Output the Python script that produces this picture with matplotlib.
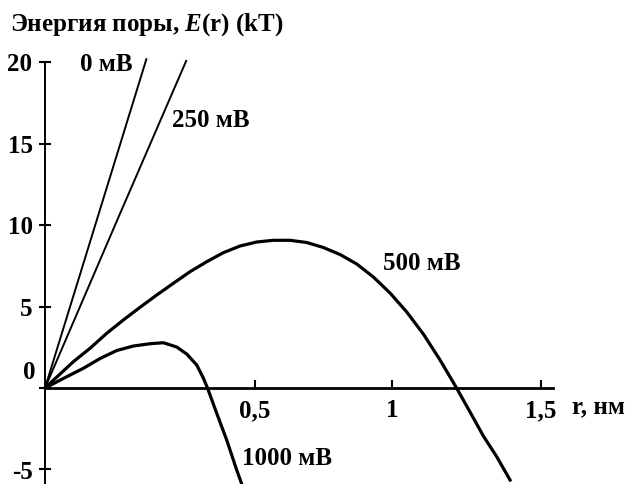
import numpy as np
import matplotlib
matplotlib.use("Agg")
import matplotlib.pyplot as plt
from matplotlib.scale import FuncScale

# Pore energy curves E(r) at several membrane voltages
r_0mv = [0.0, 0.242]
e_0mv = [0.0, 20.24]

r_250mv = [0.0, 0.172, 0.337]
e_250mv = [0.0, 10.31, 20.13]

r_500mv = [0.0, 0.0674, 0.1071, 0.1469, 0.1864, 0.2262, 0.2660, 0.3055, 0.3452,
           0.3850, 0.4245, 0.4643, 0.5062, 0.5668, 0.6277, 0.6887, 0.7493, 0.8102,
           0.8712, 0.9318, 0.9927, 1.0493, 1.1050, 1.1611, 1.2171, 1.2617, 1.3064,
           1.3513, 1.3960]
e_500mv = [0.0, 1.614, 2.437, 3.358, 4.174, 4.954, 5.709, 6.427, 7.139,
           7.753, 8.306, 8.717, 8.963, 9.067, 9.067, 8.932, 8.625, 8.195,
           7.612, 6.814, 5.832, 4.665, 3.315, 1.719, -0.018, -1.473, -2.947,
           -4.217, -5.648]

r_1000mv = [0.0, 0.0517, 0.0912, 0.1310, 0.1707, 0.2102, 0.2500, 0.2817, 0.3136,
            0.3374, 0.3612, 0.3769, 0.3869, 0.4088, 0.4326, 0.4564, 0.4683]
e_1000mv = [0.0, 0.694, 1.209, 1.811, 2.302, 2.578, 2.719, 2.781, 2.517,
            2.087, 1.412, 0.614, 0.0, -1.553, -3.192, -5.034, -5.893]

x_ticks = [0.5, 1.0, 1.5]
x_tick_labels = ["0,5", "1", "1,5"]
y_ticks = [-5, 0, 5, 10, 15, 20]
y_tick_labels = ["", "", "5", "10", "15", "20"]

curve_labels = ["0 мВ", "250 мВ", "500 мВ", "1000 мВ"]
label_pos = [(0.083, 19.83), (0.302, 16.45), (0.967, 7.67), (0.469, -4.30)]

# Hand-drawn axis: the r axis is stretched unevenly between its ticks
R_KNOTS = [0.0, 0.5, 1.0, 1.5]
U_KNOTS = [0.0, 210.0, 347.0, 496.0]


def _piecewise(x, xp, fp):
    x = np.asarray(x, dtype=float)
    y = np.interp(x, xp, fp)
    lo_slope = (fp[1] - fp[0]) / (xp[1] - xp[0])
    hi_slope = (fp[-1] - fp[-2]) / (xp[-1] - xp[-2])
    y = np.where(x < xp[0], fp[0] + (x - xp[0]) * lo_slope, y)
    y = np.where(x > xp[-1], fp[-1] + (x - xp[-1]) * hi_slope, y)
    return y


def fwd(r):
    return _piecewise(r, R_KNOTS, U_KNOTS)


def inv(u):
    return _piecewise(u, U_KNOTS, R_KNOTS)


FS = 18
plt.rcParams["font.family"] = "Liberation Serif"
plt.rcParams["font.weight"] = "bold"
plt.rcParams["mathtext.fontset"] = "custom"
plt.rcParams["mathtext.it"] = "Liberation Serif:italic:bold"
plt.rcParams["mathtext.rm"] = "Liberation Serif:bold"

W, H = 632, 484
fig = plt.figure(figsize=(W / 100, H / 100), dpi=100)
ax = fig.add_axes([45 / W, 0.0, (553 - 45) / W, (484 - 55) / H])
ax.set_xscale(FuncScale(ax, (fwd, inv)))
ax.set_xlim(0.0, 1.540)
ax.set_ylim(-5.89, 20.44)

ax.plot(r_0mv, e_0mv, color="black", lw=1.4, solid_capstyle="butt")
ax.plot(r_250mv, e_250mv, color="black", lw=1.4, solid_capstyle="butt")
ax.plot(r_500mv, e_500mv, color="black", lw=2.3, solid_joinstyle="round")
ax.plot(r_1000mv, e_1000mv, color="black", lw=2.3, solid_joinstyle="round")

for s in ("top", "right"):
    ax.spines[s].set_visible(False)
ax.spines["bottom"].set_position(("data", 0))
ax.spines["bottom"].set_linewidth(2.0)
ax.spines["left"].set_position(("data", 0))
ax.spines["left"].set_linewidth(1.4)
ax.spines["left"].set_bounds(-5.89, 20)

ax.set_xticks(x_ticks)
ax.set_xticklabels(x_tick_labels)
ax.xaxis.set_minor_locator(matplotlib.ticker.NullLocator())
ax.tick_params(axis="x", direction="in", length=6, width=1.5, pad=8, labelsize=FS)
ax.set_yticks(y_ticks)
ax.set_yticklabels(y_tick_labels)
ax.tick_params(axis="y", direction="inout", length=8, width=1.5, pad=5, labelsize=FS)
for lab in ax.get_xticklabels() + ax.get_yticklabels():
    lab.set_fontweight("bold")

# labels for 0 and -5 are nudged off their ticks
ax.annotate("0", xy=(0, 0), xycoords="data", xytext=(-7, 11.5),
            textcoords="offset points", ha="right", va="center",
            fontsize=FS, fontweight="bold")
ax.annotate("-5", xy=(0, -5), xycoords="data", xytext=(-8.5, -2),
            textcoords="offset points", ha="right", va="center",
            fontsize=FS, fontweight="bold", annotation_clip=False)

ax.text(1.604, -1.17, "r, нм", ha="left", va="center", fontsize=FS,
        fontweight="bold", clip_on=False)

for txt, (xr, ye) in zip(curve_labels, label_pos):
    ax.text(xr, ye, txt, ha="left", va="center", fontsize=FS, fontweight="bold")

fig.text(10 / W, 1 - 25 / H, r"Энергия поры, $E$(r) (kT)", ha="left", va="center",
         fontsize=FS, fontweight="bold")

fig.savefig("out.png", dpi=100)
